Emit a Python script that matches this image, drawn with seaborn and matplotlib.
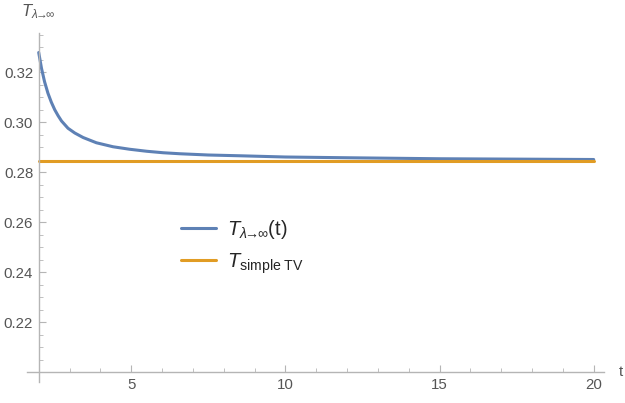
import numpy as np
import pandas as pd
import matplotlib
matplotlib.use("Agg")
import matplotlib.pyplot as plt
import seaborn as sns
from matplotlib.ticker import MultipleLocator

# values
t_vals = [2.0, 2.09, 2.19, 2.3, 2.41, 2.52, 2.63, 2.74, 2.95, 3.17, 3.44,
          3.87, 4.41, 4.95, 5.5, 6.04, 6.58, 7.5, 8.5, 10.0, 12.0, 15.0, 20.0]
T_lambda = [0.3278, 0.3215, 0.3161, 0.3115, 0.3079, 0.3049, 0.3025, 0.3004,
            0.2975, 0.2956, 0.2938, 0.2917, 0.2901, 0.2891, 0.2883, 0.2877,
            0.2873, 0.2868, 0.2865, 0.2860, 0.2857, 0.2853, 0.2850]
T_simple = 0.2844

x_ticks = [5, 10, 15, 20]
y_ticks = [0.22, 0.24, 0.26, 0.28, 0.30, 0.32]

blue = "#5e81b5"
orange = "#e19c24"
axis_grey = "#b5b5b5"
label_grey = "#555555"

sns.set_theme(style="white")
plt.rcParams["font.family"] = ["Liberation Sans", "DejaVu Sans"]
plt.rcParams["mathtext.fontset"] = "custom"
plt.rcParams["mathtext.rm"] = "Liberation Sans"
plt.rcParams["mathtext.it"] = "Liberation Sans:italic"

df = pd.DataFrame({"t": t_vals, "T": T_lambda})
flat = pd.DataFrame({"t": [t_vals[0], t_vals[-1]], "T": [T_simple, T_simple]})

fig = plt.figure(figsize=(6.25, 4.03), dpi=100)
ax = fig.add_axes([0.0427, 0.0521, 0.9235, 0.866])

sub = r"\lambda\!\!\rightarrow\!\!\infty"
sns.lineplot(data=df, x="t", y="T", ax=ax, color=blue, lw=2.2,
             label=r"$T_{" + sub + r"}$(t)")
sns.lineplot(data=flat, x="t", y="T", ax=ax, color=orange, lw=2.2,
             label=r"$T_{\mathrm{simple\ TV}}$")

ax.set_xlim(1.61, 20.33)
ax.set_ylim(0.196, 0.3356)

# Mathematica-like crossing axes
ax.spines["left"].set_position(("data", 2))
ax.spines["bottom"].set_position(("data", 0.2))
ax.spines["right"].set_visible(False)
ax.spines["top"].set_visible(False)
for s in ["left", "bottom"]:
    ax.spines[s].set_color(axis_grey)
    ax.spines[s].set_linewidth(1.0)

ax.set_xticks(x_ticks)
ax.set_yticks(y_ticks)
ax.set_yticklabels([f"{v:.2f}" for v in y_ticks])
ax.xaxis.set_minor_locator(MultipleLocator(1))
ax.yaxis.set_minor_locator(MultipleLocator(0.005))
ax.tick_params(axis="both", which="major", direction="in", length=5, width=0.8,
               color=axis_grey, labelcolor=label_grey, labelsize=10.8, pad=4)
ax.tick_params(axis="both", which="minor", direction="in", length=3, width=0.6,
               color=axis_grey)
ax.tick_params(axis="x", which="both", bottom=True, top=False)
ax.tick_params(axis="y", which="both", left=True, right=False)
ax.set_xlabel("")
ax.set_ylabel("")

fig.text(38 / 625, 1 - 12 / 403, r"$T_{" + sub + r"}$", ha="center",
         va="center", color=label_grey, fontsize=12)
fig.text(621 / 625, 1 - 372 / 403, "t", ha="center", va="center",
         color=label_grey, fontsize=10.8)

ax.legend(loc="upper left", bbox_to_anchor=(181 / 625, 1 - 218 / 403),
          bbox_transform=fig.transFigure, frameon=False, fontsize=14.5,
          handlelength=1.75, handletextpad=0.55, labelspacing=0.5,
          borderpad=0, borderaxespad=0)

fig.savefig("out.png", dpi=100)
